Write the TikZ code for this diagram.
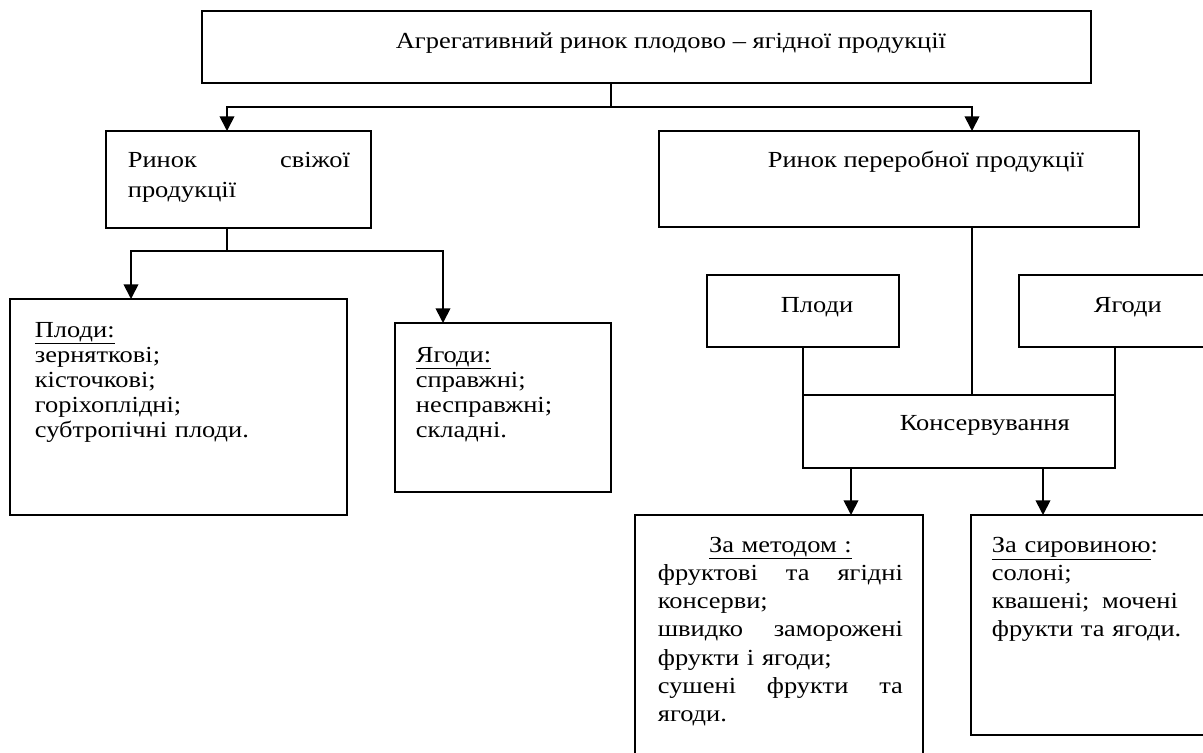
\documentclass[tikz,border=0pt]{standalone}
\usepackage{fontspec}
\setmainfont{Liberation Serif}[FakeStretch=1.15]
\usetikzlibrary{arrows.meta}
\tikzset{
box/.style={draw, inner sep=0pt, outer sep=0pt, anchor=north west},
txt/.style={inner sep=0pt, anchor=base west, font=\fontsize{17.25}{22.5}\selectfont},
list/.style={txt, align=left, font={\fontsize{17.25}{18.75}\selectfont\lineskiplimit=-20pt}},
listwide/.style={txt, align=left, font={\fontsize{17.25}{21.2}\selectfont\lineskiplimit=-20pt}},
arr/.style={-{Triangle[length=11pt,width=11pt]}}
}
\begin{document}
\begin{tikzpicture}[x=0.75pt,y=-0.75pt,line width=1.3pt]
\useasboundingbox (0,0) rectangle (1203,753);
\clip (0,0) rectangle (1203,753);
% boxes
\node[box, minimum width=666.75pt, minimum height=54pt] (agg) at (202,11) {};
\node[box, minimum width=198.75pt, minimum height=72.75pt] (fresh) at (106,131) {};
\node[box, minimum width=360pt, minimum height=72pt] (proc) at (659,131) {};
\node[box, minimum width=252.75pt, minimum height=162pt] (fruits) at (10,299) {};
\node[box, minimum width=162pt, minimum height=126.75pt] (berries) at (395,323) {};
\node[box, minimum width=144pt, minimum height=54pt] (pfruits) at (707,275) {};
\node[box, minimum width=142pt, minimum height=54pt] (pberries) at (1019,275) {};
\node[box, minimum width=234pt, minimum height=54.75pt] (kons) at (803,395) {};
\node[box, minimum width=216pt, minimum height=195pt] (method) at (635,515) {};
\node[box, minimum width=186pt, minimum height=165pt] (raw) at (971,515) {};
% texts
\node[txt] (aggt) at (395,48) {Агрегативний ринок плодово – ягідної продукції};
\node[txt, text width=166.5pt, align=left] (fresht) at (127,167) {Ринок \hfill свіжої\\продукції};
\node[txt] (proct) at (767,167) {Ринок переробної продукції};
\node[list, text width=240pt] (fruitst) at (34,337) {\underline{Плоди:}\\зерняткові;\\кісточкові;\\горіхоплідні;\\субтропічні плоди.};
\node[list, text width=140pt] (berriest) at (415,362) {\underline{Ягоди:}\\справжні;\\несправжні;\\складні.};
\node[txt] (pfruitst) at (780,312) {Плоди};
\node[txt] (pberriest) at (1093,312) {Ягоди};
\node[txt] (konst) at (899,430) {Консервування};
\node[listwide, text width=183.75pt] (methodt) at (657,552) {\makebox[183.75pt]{\underline{За методом :}}\\
\makebox[183.75pt][s]{фруктові\hfill та\hfill ягідні}\\консерви;\\
\makebox[183.75pt][s]{швидко\hfill заморожені}\\фрукти і ягоди;\\
\makebox[183.75pt][s]{сушені\hfill фрукти\hfill та}\\ягоди.};
\node[listwide, text width=139.5pt] (rawt) at (991,552) {\underline{За сировиною}:\\солоні;\\
\makebox[139.5pt][s]{квашені;\hfill мочені}\\\mbox{фрукти та ягоди.}};
% connectors
\coordinate (j0) at (611,107);
\coordinate (j1) at (227,107);
\coordinate (j2) at (972,107);
\draw (j0 |- agg.south) -- (j0);
\draw[arr] (j0) -- (j1) -- (j1 |- fresh.north);
\draw[arr] (j0) -- (j2) -- (j2 |- proc.north);
\draw (j2 |- proc.south) -- (j2 |- kons.north);
\coordinate (k0) at (227,251);
\coordinate (k1) at (131,251);
\coordinate (k2) at (443,251);
\draw (k0 |- fresh.south) -- (k0);
\draw[arr] (k0) -- (k1) -- (k1 |- fruits.north);
\draw[arr] (k0) -- (k2) -- (k2 |- berries.north);
\draw (kons.north west |- pfruits.south) -- (kons.north west);
\draw (kons.north east |- pberries.south) -- (kons.north east);
\coordinate (m1) at (851,468);
\coordinate (m2) at (1043,468);
\draw[arr] (m1 |- kons.south) -- (m1 |- method.north);
\draw[arr] (m2 |- kons.south) -- (m2 |- raw.north);
\end{tikzpicture}
\end{document}
